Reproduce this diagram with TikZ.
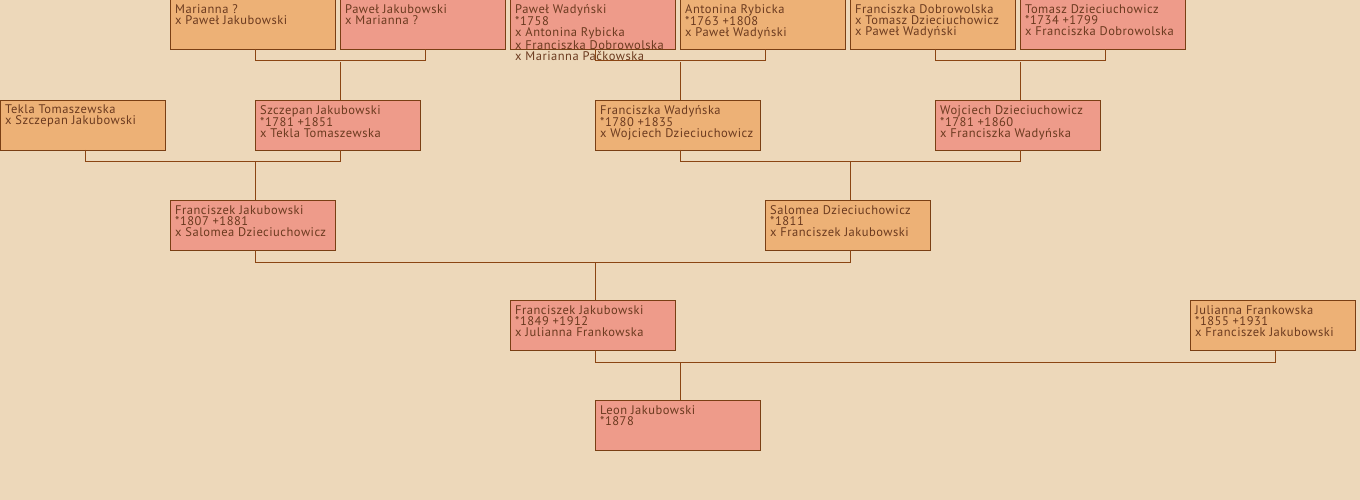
\documentclass[tikz,border=0pt]{standalone}
\usepackage{fontspec}
\setmainfont{PT Sans}[LetterSpace=4]
\usetikzlibrary{calc}
\definecolor{bgc}{HTML}{EDD8BA}
\definecolor{mcol}{HTML}{EE9B8A}
\definecolor{fcol}{HTML}{EDB176}
\definecolor{bord}{HTML}{7A3F14}
\definecolor{linec}{HTML}{8B4513}
\definecolor{txtc}{HTML}{6B3A1F}
\tikzset{
  box/.style={draw=bord, line width=1pt, minimum width=165pt, minimum height=50pt, inner sep=0pt, anchor=north west},
  male/.style={box, fill=mcol},
  female/.style={box, fill=fcol},
  txt/.style={anchor=north west, inner sep=0pt, align=left, text=txtc, font=\fontsize{12.5}{11}\selectfont},
  conn/.style={draw=linec, line width=1pt}
}
\newcommand\person[5]{%
  \node[#4] (#1) at (#2,#3) {};
  \node[txt] (#1-t) at ($(#1.north west)+(5,5)$) {#5};
  \coordinate (#1-b) at ($(#1.north west)+(85,50)$);
  \coordinate (#1-a) at ($(#1.north west)+(85,0)$);
}
\begin{document}
\begin{tikzpicture}[x=1pt,y=-1pt]
\fill[bgc] (0,0) rectangle (1360,500);
\useasboundingbox (0,0) rectangle (1360,500);
% row 0
\person{mar}{170}{-1}{female}{Marianna ?\\x Paweł Jakubowski}
\person{pja}{340}{-1}{male}{Paweł Jakubowski\\x Marianna ?}
\person{pwa}{510}{-1}{male}{Paweł Wadyński\\*1758\\x Antonina Rybicka\\x Franciszka Dobrowolska\\x Marianna Pačkowska}
\person{ary}{680}{-1}{female}{Antonina Rybicka\\*1763 +1808\\x Paweł Wadyński}
\person{fdo}{850}{-1}{female}{Franciszka Dobrowolska\\x Tomasz Dzieciuchowicz\\x Paweł Wadyński}
\person{tdz}{1020}{-1}{male}{Tomasz Dzieciuchowicz\\*1734 +1799\\x Franciszka Dobrowolska}
% row 1
\person{tto}{0}{100}{female}{Tekla Tomaszewska\\x Szczepan Jakubowski}
\person{sja}{255}{100}{male}{Szczepan Jakubowski\\*1781 +1851\\x Tekla Tomaszewska}
\person{fwa}{595}{100}{female}{Franciszka Wadyńska\\*1780 +1835\\x Wojciech Dzieciuchowicz}
\person{wdz}{935}{100}{male}{Wojciech Dzieciuchowicz\\*1781 +1860\\x Franciszka Wadyńska}
% row 2
\person{fja}{170}{200}{male}{Franciszek Jakubowski\\*1807 +1881\\x Salomea Dzieciuchowicz}
\person{sdz}{765}{200}{female}{Salomea Dzieciuchowicz\\*1811\\x Franciszek Jakubowski}
% row 3
\person{fjb}{510}{300}{male}{Franciszek Jakubowski\\*1849 +1912\\x Julianna Frankowska}
\person{jfr}{1190}{300}{female}{Julianna Frankowska\\*1855 +1931\\x Franciszek Jakubowski}
% row 4
\person{lja}{595}{400}{male}{Leon Jakubowski\\*1878}
% connectors
\draw[conn] (mar-b) -- ++(0,12) -| (pja-b);
\draw[conn] (sja-a) -- ++(0,-38);
\draw[conn] (pwa-b) -- ++(0,12) -| (ary-b);
\draw[conn] (fwa-a) -- ++(0,-38);
\draw[conn] (fdo-b) -- ++(0,12) -| (tdz-b);
\draw[conn] (wdz-a) -- ++(0,-38);
\draw[conn] (tto-b) -- ++(0,12) -| (sja-b);
\draw[conn] (fja-a) -- ++(0,-38);
\draw[conn] (fwa-b) -- ++(0,12) -| (wdz-b);
\draw[conn] (sdz-a) -- ++(0,-38);
\draw[conn] (fja-b) -- ++(0,12) -| (sdz-b);
\draw[conn] (fjb-a) -- ++(0,-38);
\draw[conn] (fjb-b) -- ++(0,12) -| (jfr-b);
\draw[conn] (lja-a) -- ++(0,-38);
\end{tikzpicture}
\end{document}
